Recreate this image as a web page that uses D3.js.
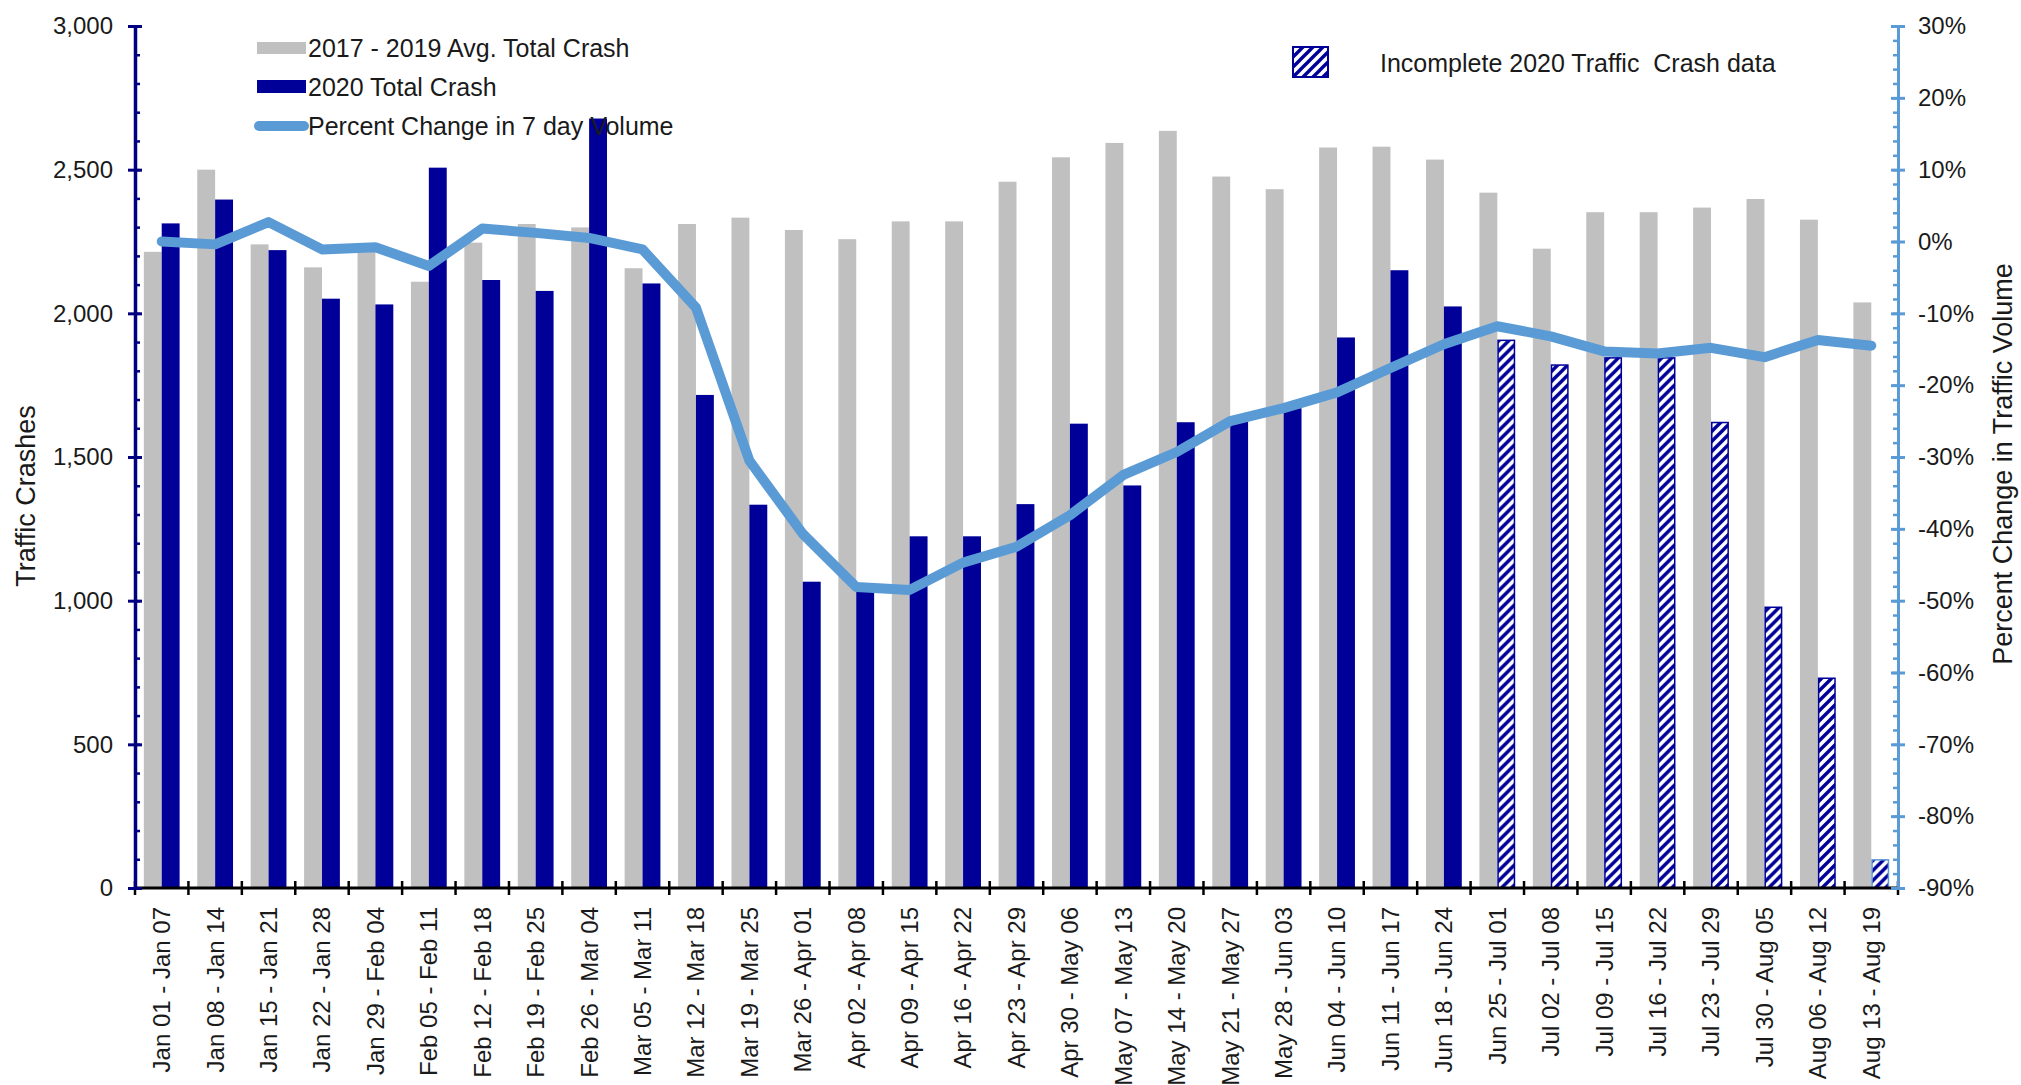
<!DOCTYPE html>
<html>
<head>
<meta charset="utf-8">
<script src="https://cdn.jsdelivr.net/npm/d3@7"></script>
<style>
  body { margin: 0; background: #fff; }
  text { font-family: "Liberation Sans", Arial, sans-serif; fill: #1a1a1a; }
</style>
</head>
<body>
<svg id="chart"></svg>
<script>
// week labels
var weeks = ["Jan 01 - Jan 07", "Jan 08 - Jan 14", "Jan 15 - Jan 21", "Jan 22 - Jan 28", "Jan 29 - Feb 04",
    "Feb 05 - Feb 11", "Feb 12 - Feb 18", "Feb 19 - Feb 25", "Feb 26 - Mar 04", "Mar 05 - Mar 11",
    "Mar 12 - Mar 18", "Mar 19 - Mar 25", "Mar 26 - Apr 01", "Apr 02 - Apr 08", "Apr 09 - Apr 15",
    "Apr 16 - Apr 22", "Apr 23 - Apr 29", "Apr 30 - May 06", "May 07 - May 13", "May 14 - May 20",
    "May 21 - May 27", "May 28 - Jun 03", "Jun 04 - Jun 10", "Jun 11 - Jun 17", "Jun 18 - Jun 24",
    "Jun 25 - Jul 01", "Jul 02 - Jul 08", "Jul 09 - Jul 15", "Jul 16 - Jul 22", "Jul 23 - Jul 29",
    "Jul 30 - Aug 05", "Aug 06 - Aug 12", "Aug 13 - Aug 19"];

// 2017 - 2019 average crashes per week
var avgCrash = [2214, 2500, 2240, 2160, 2220, 2110, 2246, 2311, 2299, 2157, 2311, 2333, 2290, 2258, 2320,
    2320, 2458, 2543, 2593, 2635, 2476, 2432, 2577, 2580, 2535, 2420, 2225, 2352, 2352, 2368, 2398, 2326, 2038];

// 2020 crashes per week (last 8 weeks incomplete)
var crash2020 = [2313, 2396, 2220, 2051, 2031, 2507, 2116, 2078, 2678, 2104, 1716, 1334, 1066, 1045, 1224,
    1224, 1336, 1616, 1401, 1621, 1630, 1670, 1916, 2150, 2024, 1906, 1820, 1845, 1845, 1620, 977, 730, 98];
var firstIncomplete = 25;

// percent change in 7 day traffic volume
var pctChange = [0.0, -0.4, 2.7, -1.1, -0.8, -3.4, 1.8, 1.2, 0.5, -1.1, -9.2, -30.5, -40.7, -48.1, -48.5,
    -44.7, -42.5, -38.1, -32.5, -29.3, -25.0, -23.2, -21.0, -17.6, -14.3, -11.8, -13.2, -15.3, -15.6,
    -14.8, -16.1, -13.7, -14.5];

var w = 2021, h = 1085;
var plotLeft = 135, plotRight = 1898, plotTop = 26, plotBottom = 888;
var navy = "#000099", axisNavy = "#000080", gray = "#c0c0c0", lineBlue = "#5b9bd5";
var fontFam = "'Liberation Sans', Arial, sans-serif";

var svg = d3.select("#chart").attr("width", w).attr("height", h);

// wide upward diagonal fill for the incomplete weeks
var defs = svg.append("defs");
var hatch = defs.append("pattern")
    .attr("id", "hatch")
    .attr("patternUnits", "userSpaceOnUse")
    .attr("width", 10).attr("height", 10);
hatch.append("rect").attr("width", 10).attr("height", 10).attr("fill", "#fff");
hatch.append("path")
    .attr("d", "M-3,3 L3,-3 M0,10 L10,0 M7,13 L13,7")
    .attr("stroke", navy)
    .attr("stroke-width", 3.4);

var x0 = d3.scaleBand()
    .domain(weeks)
    .range([plotLeft, plotRight])
    .paddingInner(0.33)
    .paddingOuter(0.165);

var x1 = d3.scaleBand()
    .domain(["avg", "y2020"])
    .range([0, x0.bandwidth()]);

var yL = d3.scaleLinear().domain([0, 3000]).range([plotBottom, plotTop]);
var yR = d3.scaleLinear().domain([-90, 30]).range([plotBottom, plotTop]);

// bars
var groups = svg.append("g").selectAll("g")
    .data(weeks)
    .enter().append("g")
    .attr("transform", function (d) { return "translate(" + x0(d) + ",0)"; });

groups.append("rect")
    .attr("x", x1("avg"))
    .attr("width", x1.bandwidth())
    .attr("y", function (d, i) { return yL(avgCrash[i]); })
    .attr("height", function (d, i) { return plotBottom - yL(avgCrash[i]); })
    .attr("fill", gray);

groups.append("rect")
    .attr("x", function (d, i) { return x1("y2020") + (i >= firstIncomplete ? 0.75 : 0); })
    .attr("width", function (d, i) { return x1.bandwidth() - (i >= firstIncomplete ? 1.5 : 0); })
    .attr("y", function (d, i) { return yL(crash2020[i]); })
    .attr("height", function (d, i) { return plotBottom - yL(crash2020[i]); })
    .attr("fill", function (d, i) { return i >= firstIncomplete ? "url(#hatch)" : navy; })
    .attr("stroke", function (d, i) {
        if (i < firstIncomplete) return "none";
        return i === weeks.length - 1 ? lineBlue : navy;
    })
    .attr("stroke-width", 1.5);

// x axis
var xAxis = svg.append("g")
    .attr("transform", "translate(0," + plotBottom + ")")
    .call(d3.axisBottom(x0).tickSize(0).tickSizeOuter(0));
xAxis.select(".domain").remove();
xAxis.selectAll("text")
    .attr("transform", "rotate(-90)")
    .attr("x", -19)
    .attr("y", 0)
    .attr("dy", "0.35em")
    .attr("text-anchor", "end")
    .style("font-size", "24px")
    .style("font-family", fontFam)
    .attr("fill", "#1a1a1a");

svg.append("line")
    .attr("x1", plotLeft).attr("x2", plotRight)
    .attr("y1", plotBottom).attr("y2", plotBottom)
    .attr("stroke", "#000").attr("stroke-width", 3);

svg.append("g").selectAll("line")
    .data(d3.range(weeks.length + 1))
    .enter().append("line")
    .attr("x1", function (i) { return plotLeft + i * x0.step(); })
    .attr("x2", function (i) { return plotLeft + i * x0.step(); })
    .attr("y1", plotBottom - 7).attr("y2", plotBottom + 7)
    .attr("stroke", "#000").attr("stroke-width", 2.5);

// left axis
var leftMinor = svg.append("g")
    .attr("transform", "translate(" + plotLeft + ",0)")
    .call(d3.axisRight(yL).tickValues(d3.range(0, 3001, 100)).tickSize(5).tickFormat(""));
leftMinor.select(".domain").remove();
leftMinor.selectAll("line").attr("stroke", axisNavy).attr("stroke-width", 2.5);

var leftAxis = svg.append("g")
    .attr("transform", "translate(" + plotLeft + ",0)")
    .call(d3.axisLeft(yL).tickValues(d3.range(0, 3001, 500)).tickSize(7).tickSizeOuter(0)
        .tickFormat(d3.format(",")));
leftAxis.select(".domain").attr("stroke", axisNavy).attr("stroke-width", 3.5);
leftAxis.selectAll(".tick line").attr("x1", 7).attr("stroke", axisNavy).attr("stroke-width", 3);
leftAxis.selectAll(".tick text")
    .attr("x", -22)
    .style("font-size", "24px")
    .style("font-family", fontFam)
    .attr("fill", "#1a1a1a");

// right axis
var rightMinor = svg.append("g")
    .attr("transform", "translate(" + plotRight + ",0)")
    .call(d3.axisLeft(yR).tickValues(d3.range(-90, 31, 2)).tickSize(5).tickFormat(""));
rightMinor.select(".domain").remove();
rightMinor.selectAll("line").attr("stroke", lineBlue).attr("stroke-width", 2.5);

var rightAxis = svg.append("g")
    .attr("transform", "translate(" + plotRight + ",0)")
    .call(d3.axisRight(yR).tickValues(d3.range(-90, 31, 10)).tickSize(7).tickSizeOuter(0)
        .tickFormat(function (d) { return d + "%"; }));
rightAxis.select(".domain").attr("stroke", lineBlue).attr("stroke-width", 3);
rightAxis.selectAll(".tick line").attr("x1", -7).attr("stroke", lineBlue).attr("stroke-width", 3);
rightAxis.selectAll(".tick text")
    .attr("x", 20)
    .style("font-size", "24px")
    .style("font-family", fontFam)
    .attr("fill", "#1a1a1a");

// percent change line
var line = d3.line()
    .x(function (d, i) { return x0(weeks[i]) + x0.bandwidth() / 2; })
    .y(function (d) { return yR(d); });

svg.append("path")
    .datum(pctChange)
    .attr("d", line)
    .attr("fill", "none")
    .attr("stroke", lineBlue)
    .attr("stroke-width", 10)
    .attr("stroke-linejoin", "round")
    .attr("stroke-linecap", "round");

// axis titles
svg.append("text")
    .attr("transform", "translate(26,496) rotate(-90)")
    .attr("text-anchor", "middle")
    .attr("dy", "0.35em")
    .style("font-size", "27px")
    .text("Traffic Crashes");

svg.append("text")
    .attr("transform", "translate(2003,464) rotate(-90)")
    .attr("text-anchor", "middle")
    .attr("dy", "0.35em")
    .style("font-size", "27px")
    .text("Percent Change in Traffic Volume");

// legend
var legend = svg.append("g");
legend.append("rect").attr("x", 257).attr("y", 42).attr("width", 49).attr("height", 12).attr("fill", gray);
legend.append("rect").attr("x", 257).attr("y", 80).attr("width", 49).attr("height", 13).attr("fill", navy);
legend.append("line").attr("x1", 259).attr("x2", 304).attr("y1", 126).attr("y2", 126)
    .attr("stroke", lineBlue).attr("stroke-width", 10).attr("stroke-linecap", "round");

var legendLabels = ["2017 - 2019 Avg. Total Crash", "2020 Total Crash", "Percent Change in 7 day Volume"];
var legendY = [48, 87, 126];
legend.selectAll("text.lg")
    .data(legendLabels)
    .enter().append("text")
    .attr("class", "lg")
    .attr("x", 308)
    .attr("y", function (d, i) { return legendY[i]; })
    .attr("dy", "0.35em")
    .style("font-size", "25px")
    .text(function (d) { return d; });

legend.append("rect").attr("x", 1293).attr("y", 47).attr("width", 35).attr("height", 30)
    .attr("fill", "url(#hatch)").attr("stroke", navy).attr("stroke-width", 2);
legend.append("text")
    .attr("x", 1380).attr("y", 63).attr("dy", "0.35em")
    .style("font-size", "25px")
    .attr("xml:space", "preserve")
    .text("Incomplete 2020 Traffic  Crash data");
</script>
</body>
</html>
